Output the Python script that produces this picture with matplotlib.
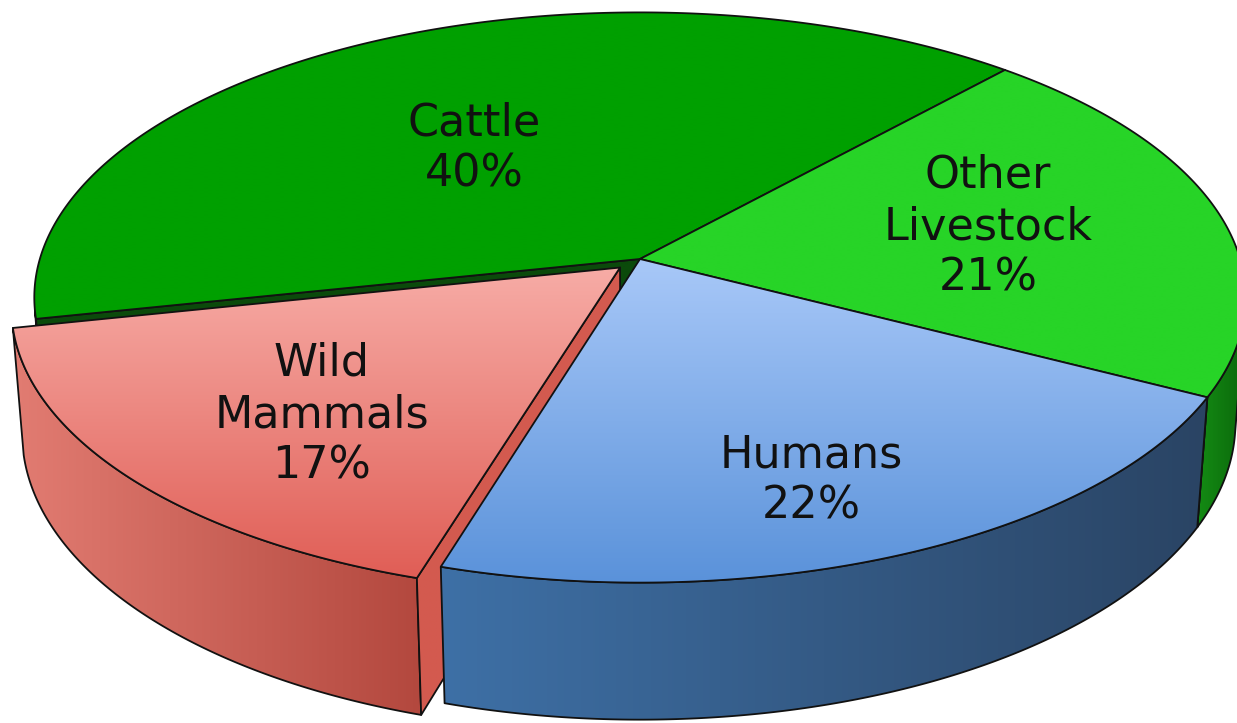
import numpy as np
import matplotlib.pyplot as plt
from matplotlib.patches import Polygon
from matplotlib.colors import LinearSegmentedColormap

# slices, counter-clockwise from the Cattle / Other Livestock border
labels = ["Cattle", "Wild\nMammals", "Humans", "Other\nLivestock"]
shares = [40, 17, 22, 21]
explode = [0, 0.045, 0, 0]

# (first, last) colour of each gradient
top_colors = [("#00a000", "#00a000"), ("#f7aca6", "#e05e56"),
              ("#a8c8f8", "#5a92da"), ("#27d427", "#27d427")]
side_colors = [("#0a6e0a", "#0a6e0a"), ("#e27c72", "#b3483e"),
               ("#3e70a6", "#2a4464"), ("#148c14", "#0b680b")]
cut_colors = ["#0b4a0b", "#d35a4f", "#2f5580", "#0b680b"]
draw_order = [0, 3, 1, 2]

label_r = [0.51, 0.67, 0.76, 0.60]
label_dt = [5, 4, -3, 1]

# camera / layout
W, H = 1237, 723
cx, cy = 640, 259
scale = 3931
dist = 6.55
elev = np.radians(27.8)
depth = 0.238
start = 48

ce, se = np.cos(elev), np.sin(elev)
cam = np.array([0.0, -dist * ce, dist * se])


def proj(x, y, z):
    w = dist + y * ce - z * se
    return np.column_stack([cx + scale * x / w, cy - scale * (y * se + z * ce) / w])


def shade(ax, xy, c1, c2, vertical, z):
    poly = Polygon(xy, closed=True, facecolor="none", edgecolor="#111111",
                   lw=1.3, joinstyle="round", zorder=z + 0.5)
    ax.add_patch(poly)
    x0, y0 = xy.min(0)
    x1, y1 = xy.max(0)
    cmap = LinearSegmentedColormap.from_list("g", [c1, c2])
    g = np.linspace(0, 1, 256)
    img = g[:, None] if vertical else g[None, :]
    im = ax.imshow(img, cmap=cmap, extent=[x0, x1, y1, y0], aspect="auto",
                   interpolation="bilinear", zorder=z)
    im.set_clip_path(poly)


fig = plt.figure(figsize=(12.37, 7.23), dpi=100)
ax = fig.add_axes([0, 0, 1, 1])
ax.axis("off")

cum = np.concatenate([[0], np.cumsum(shares)]) * 3.6 + start
z = 1
for i in draw_order:
    t1, t2 = np.radians(cum[i]), np.radians(cum[i + 1])
    mid = (t1 + t2) / 2
    ox, oy = explode[i] * np.cos(mid), explode[i] * np.sin(mid)
    ts = np.linspace(t1, t2, 400)

    # outer rim, only the part that faces the camera
    vis = -ox * np.cos(ts) - (dist * ce + oy) * np.sin(ts) - 1 > 0
    if vis.sum() > 1:
        tv = ts[vis]
        top = proj(ox + np.cos(tv), oy + np.sin(tv), np.zeros_like(tv))
        bot = proj(ox + np.cos(tv), oy + np.sin(tv), np.full_like(tv, -depth))
        shade(ax, np.vstack([top, bot[::-1]]), *side_colors[i], False, z)
        z += 1

    # cut faces
    for tb, sgn in ((t1, 1), (t2, -1)):
        n = np.array([sgn * np.sin(tb), -sgn * np.cos(tb)])
        p = np.array([ox + 0.5 * np.cos(tb), oy + 0.5 * np.sin(tb)])
        if np.dot(cam[:2] - p, n) > 0:
            xs = np.array([ox, ox + np.cos(tb), ox + np.cos(tb), ox])
            ys = np.array([oy, oy + np.sin(tb), oy + np.sin(tb), oy])
            zs = np.array([0, 0, -depth, -depth])
            shade(ax, proj(xs, ys, zs), cut_colors[i], cut_colors[i], True, z)
            z += 1

    # top face
    xs = np.concatenate([[ox], ox + np.cos(ts)])
    ys = np.concatenate([[oy], oy + np.sin(ts)])
    shade(ax, proj(xs, ys, np.zeros_like(xs)), *top_colors[i], True, z)
    z += 1

# labels
for i in range(len(labels)):
    t = np.radians((cum[i] + cum[i + 1]) / 2)
    ox, oy = explode[i] * np.cos(t), explode[i] * np.sin(t)
    tl = t + np.radians(label_dt[i])
    pos = proj(np.array([ox + label_r[i] * np.cos(tl)]),
               np.array([oy + label_r[i] * np.sin(tl)]), np.zeros(1))[0]
    ax.text(pos[0], pos[1], f"{labels[i]}\n{shares[i]}%", fontsize=32,
            ha="center", va="center", linespacing=1.25, color="#111111",
            family="DejaVu Sans", zorder=100)

ax.set_xlim(0, W)
ax.set_ylim(H, 0)
fig.savefig("out.png", dpi=100)
